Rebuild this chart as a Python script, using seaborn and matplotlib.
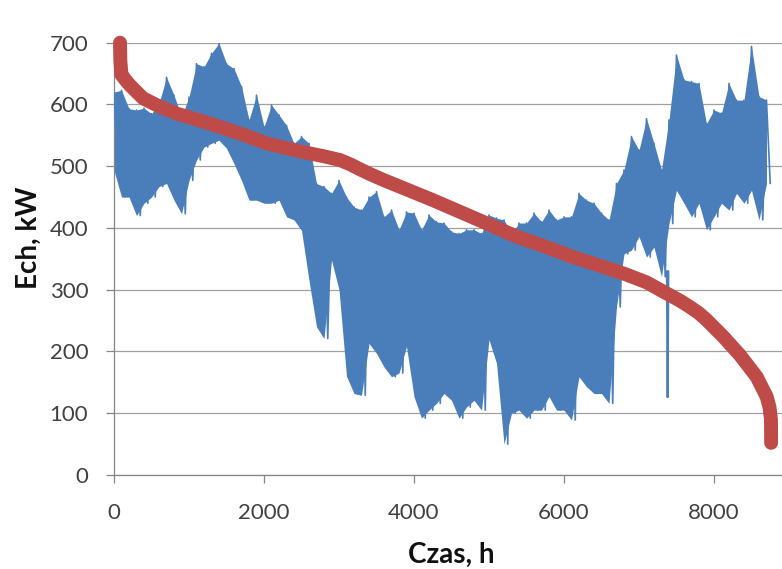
import numpy as np
import pandas as pd
import matplotlib
matplotlib.use("Agg")
import matplotlib.pyplot as plt
import seaborn as sns

# ---- data ----
# hourly load (blue): per 100-hour bin, upper and lower envelope
bin_hours = list(range(0, 8800, 100))
blue_hi = [620, 623, 593, 591, 594, 585, 602, 644, 615, 580,
           612, 666, 661, 683, 699, 666, 658, 629, 575, 615,
           564, 599, 583, 566, 537, 548, 537, 472, 467, 456,
           477, 450, 434, 429, 450, 459, 418, 429, 397, 426,
           424, 397, 421, 410, 408, 394, 391, 397, 397, 391,
           421, 416, 413, 391, 408, 408, 424, 410, 429, 413,
           418, 418, 456, 445, 440, 424, 413, 472, 494, 548,
           526, 577, 537, 494, 575, 680, 640, 637, 634, 569,
           591, 586, 634, 607, 607, 694, 613, 607]
blue_lo = [493, 450, 450, 420, 440, 450, 467, 472, 445, 423,
           477, 510, 531, 537, 542, 529, 504, 477, 445, 445,
           440, 440, 445, 418, 413, 396, 315, 240, 221, 348,
           300, 160, 132, 129, 213, 197, 175, 159, 165, 208,
           127, 92, 105, 116, 132, 121, 92, 110, 121, 105,
           219, 181, 50, 100, 105, 92, 105, 105, 127, 105,
           105, 89, 159, 143, 132, 132, 116, 272, 358, 364,
           386, 353, 369, 321, 407, 461, 440, 418, 440, 397,
           418, 440, 429, 456, 440, 461, 413, 472]
# single deep dip near hour 7382
dip_hours = [7372, 7382, 7392]
dip_values = [330, 126, 330]

# sorted load-duration curve (red)
red_hours = [80, 85, 100, 150, 213, 387, 600, 840, 1280, 1700, 2036, 2480,
             2800, 3013, 3150, 3280, 3400, 3587, 4253, 4920, 5369, 5700,
             6120, 6500, 6800, 7100, 7369, 7550, 7680, 7800, 7902, 8124,
             8347, 8569, 8702, 8740, 8760, 8762]
red_values = [700, 670, 648, 640, 631, 610, 597, 585, 569, 552, 537, 524,
              516, 510, 503, 495, 488, 478, 445, 410, 386, 372,
              353, 338, 326, 312, 294, 282, 272, 262, 251, 224,
              194, 159, 127, 110, 90, 52]

x_ticks = [0, 2000, 4000, 6000, 8000]
y_ticks = [0, 100, 200, 300, 400, 500, 600, 700]
x_label = "Czas, h"
y_label = "Ech, kW"

BLUE = "#4A7EBB"
RED = "#BE4B48"

sns.set_style("white")
plt.rcParams["font.family"] = ["Lato", "DejaVu Sans"]

fig = plt.figure(figsize=(7.82, 5.69), dpi=100)
ax = fig.add_axes([0.1458, 0.1652, 0.8542, 0.7598])

# blue series
half = 50
zz_x, zz_y = [], []
for h, hi, lo in zip(bin_hours, blue_hi, blue_lo):
    zz_x += [h, h + half]
    zz_y += [hi, lo]
ax.fill_between(bin_hours, blue_lo, blue_hi, color=BLUE, lw=0, zorder=2)
sns.lineplot(x=zz_x, y=zz_y, ax=ax, color=BLUE, lw=1.2, estimator=None,
             sort=False, zorder=3)
sns.lineplot(x=dip_hours, y=dip_values, ax=ax, color=BLUE, lw=1.5,
             estimator=None, sort=False, zorder=3)

# red duration curve
sns.lineplot(x=red_hours, y=red_values, ax=ax, color=RED, lw=10,
             estimator=None, sort=False, zorder=4,
             solid_capstyle="round", solid_joinstyle="round", clip_on=False)

ax.set_xlim(0, 8907)
ax.set_ylim(0, 700)
ax.set_xticks(x_ticks)
ax.set_yticks(y_ticks)
ax.yaxis.grid(True, color="#a0a0a0", lw=0.9)
ax.xaxis.grid(False)
ax.set_axisbelow(True)

for s in ["top", "right"]:
    ax.spines[s].set_visible(False)
for s in ["left", "bottom"]:
    ax.spines[s].set_color("#868686")
    ax.spines[s].set_linewidth(0.9)

ax.tick_params(axis="both", direction="out", length=6, width=0.9,
               color="#868686", labelsize=16, labelcolor="#404040")
ax.tick_params(axis="x", pad=14, bottom=True)
ax.tick_params(axis="y", pad=12.5, left=True)

ax.set_xlabel(x_label, fontsize=20, fontweight="bold", color="#111111")
ax.set_ylabel(y_label, fontsize=20, fontweight="bold", color="#111111")
ax.xaxis.set_label_coords(0.505, -0.1536)
ax.yaxis.set_label_coords(-0.108, 0.548)

fig.savefig("out.png", dpi=100)
